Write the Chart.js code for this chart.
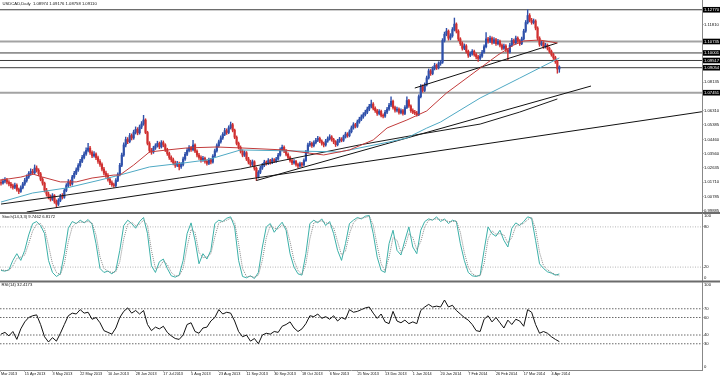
<!DOCTYPE html>
<html><head><meta charset="utf-8">
<script src="https://cdn.jsdelivr.net/npm/chart.js@4.4.1/dist/chart.umd.min.js"></script>
<style>
html,body{margin:0;padding:0;background:#fff;width:720px;height:377px;overflow:hidden;}
.p{position:absolute;left:0;width:720px;}
</style></head><body>
<div class="p" style="top:0;height:216px"><canvas id="cMain"></canvas></div>
<div class="p" style="top:210px;height:73px"><canvas id="cStoch"></canvas></div>
<div class="p" style="top:280px;height:97px"><canvas id="cRsi"></canvas></div>
<script>
// ---------------- DATA ----------------
const candleOpen = [
1.0170,1.0165,1.0178,1.0185,1.0172,1.0160,1.0148,1.0138,1.0152,1.0125,
1.0112,1.0135,1.0160,1.0182,1.0205,1.0228,1.0240,1.0232,1.0262,1.0248,
1.0225,1.0190,1.0165,1.0120,1.0095,1.0078,1.0062,1.0085,1.0048,1.0030,
1.0055,1.0082,1.0075,1.0118,1.0150,1.0172,1.0160,1.0205,1.0228,1.0250,
1.0278,1.0305,1.0330,1.0352,1.0375,1.0390,1.0362,1.0340,1.0352,1.0328,
1.0305,1.0285,1.0255,1.0230,1.0215,1.0190,1.0168,1.0155,1.0150,1.0182,
1.0220,1.0280,1.0345,1.0410,1.0445,1.0432,1.0470,1.0455,1.0492,1.0510,
1.0488,1.0525,1.0545,1.0570,1.0490,1.0420,1.0375,1.0365,1.0390,1.0405,
1.0420,1.0398,1.0425,1.0410,1.0380,1.0355,1.0330,1.0315,1.0295,1.0280,
1.0292,1.0270,1.0285,1.0320,1.0350,1.0375,1.0392,1.0380,1.0410,1.0370,
1.0345,1.0330,1.0312,1.0325,1.0305,1.0292,1.0315,1.0300,1.0338,1.0372,
1.0405,1.0430,1.0455,1.0478,1.0502,1.0490,1.0520,1.0540,1.0505,1.0460,
1.0420,1.0395,1.0370,1.0345,1.0360,1.0320,1.0300,1.0285,1.0302,1.0260,
1.0205,1.0235,1.0262,1.0280,1.0300,1.0292,1.0310,1.0298,1.0315,1.0305,
1.0320,1.0345,1.0380,1.0395,1.0372,1.0350,1.0330,1.0310,1.0295,1.0305,
1.0285,1.0275,1.0290,1.0282,1.0310,1.0365,1.0410,1.0420,1.0405,1.0425,
1.0440,1.0452,1.0435,1.0420,1.0410,1.0435,1.0450,1.0462,1.0445,1.0430,
1.0412,1.0435,1.0448,1.0440,1.0462,1.0480,1.0470,1.0495,1.0520,1.0540,
1.0530,1.0558,1.0575,1.0590,1.0605,1.0620,1.0640,1.0658,1.0672,1.0645,
1.0630,1.0612,1.0625,1.0600,1.0595,1.0620,1.0640,1.0665,1.0690,1.0650,
1.0632,1.0640,1.0618,1.0630,1.0612,1.0650,1.0695,1.0660,1.0630,1.0620,
1.0615,1.0605,1.0720,1.0785,1.0760,1.0795,1.0840,1.0885,1.0868,1.0900,
1.0920,1.0905,1.0932,1.0940,1.1080,1.1120,1.1140,1.1095,1.1110,1.1150,
1.1185,1.1140,1.1090,1.1060,1.1030,1.1045,1.1010,1.0985,1.0995,1.1010,
1.0990,1.0975,1.0965,1.0980,1.1005,1.1040,1.1090,1.1075,1.1095,1.1068,
1.1085,1.1060,1.1075,1.1050,1.1030,1.1045,1.1020,1.1005,1.1050,1.1080,
1.1065,1.1095,1.1078,1.1060,1.1090,1.1140,1.1195,1.1240,1.1210,1.1195,
1.1205,1.1160,1.1095,1.1055,1.1065,1.1040,1.1050,1.1030,1.1010,1.0990,
1.0970,1.0945,1.08974];
const candleHigh = [
1.0188,1.0192,1.0201,1.0196,1.0181,1.0170,1.0159,1.0166,1.0160,1.0133,
1.0148,1.0171,1.0196,1.0218,1.0240,1.0257,1.0254,1.0282,1.0276,1.0258,
1.0234,1.0201,1.0172,1.0132,1.0108,1.0090,1.0098,1.0092,1.0058,1.0066,
1.0094,1.0098,1.0129,1.0162,1.0188,1.0184,1.0216,1.0241,1.0263,1.0290,
1.0318,1.0344,1.0366,1.0392,1.0420,1.0401,1.0373,1.0368,1.0360,1.0339,
1.0316,1.0296,1.0266,1.0242,1.0226,1.0201,1.0180,1.0166,1.0194,1.0232,
1.0292,1.0358,1.0424,1.0460,1.0458,1.0484,1.0481,1.0505,1.0526,1.0521,
1.0538,1.0560,1.0600,1.0578,1.0498,1.0431,1.0388,1.0402,1.0418,1.0434,
1.0429,1.0438,1.0436,1.0418,1.0389,1.0364,1.0341,1.0326,1.0306,1.0305,
1.0300,1.0297,1.0332,1.0362,1.0388,1.0406,1.0402,1.0440,1.0418,1.0379,
1.0356,1.0341,1.0337,1.0333,1.0314,1.0326,1.0324,1.0349,1.0384,1.0417,
1.0442,1.0468,1.0490,1.0516,1.0514,1.0533,1.0557,1.0549,1.0512,1.0468,
1.0429,1.0404,1.0379,1.0372,1.0368,1.0331,1.0312,1.0314,1.0309,1.0268,
1.0246,1.0274,1.0292,1.0312,1.0308,1.0322,1.0318,1.0326,1.0323,1.0331,
1.0357,1.0392,1.0410,1.0404,1.0381,1.0359,1.0338,1.0320,1.0316,1.0312,
1.0294,1.0301,1.0298,1.0321,1.0376,1.0422,1.0434,1.0429,1.0437,1.0452,
1.0466,1.0460,1.0443,1.0428,1.0446,1.0462,1.0476,1.0470,1.0453,1.0438,
1.0446,1.0459,1.0457,1.0473,1.0492,1.0489,1.0507,1.0532,1.0553,1.0549,
1.0570,1.0588,1.0603,1.0617,1.0633,1.0653,1.0671,1.0698,1.0681,1.0654,
1.0639,1.0637,1.0633,1.0610,1.0632,1.0652,1.0677,1.0718,1.0698,1.0660,
1.0653,1.0648,1.0642,1.0638,1.0662,1.0718,1.0703,1.0668,1.0641,1.0632,
1.0626,1.0731,1.0798,1.0796,1.0808,1.0852,1.0897,1.0894,1.0912,1.0934,
1.0929,1.0944,1.0953,1.1092,1.1134,1.1158,1.1148,1.1124,1.1163,1.1224,
1.1193,1.1149,1.1098,1.1071,1.1058,1.1054,1.1019,1.1008,1.1022,1.1018,
1.0999,1.0984,1.0992,1.1017,1.1052,1.1130,1.1100,1.1108,1.1104,1.1098,
1.1094,1.1088,1.1083,1.1058,1.1057,1.1053,1.1028,1.1062,1.1093,1.1089,
1.1108,1.1103,1.1086,1.1102,1.1152,1.1208,1.1277,1.1252,1.1222,1.1218,
1.1213,1.1168,1.1104,1.1078,1.1073,1.1062,1.1058,1.1038,1.1019,1.0998,
1.0979,1.0953,1.09176];
const candleLow = [
1.0152,1.0158,1.0166,1.0160,1.0147,1.0135,1.0126,1.0129,1.0114,1.0098,
1.0105,1.0128,1.0150,1.0172,1.0196,1.0215,1.0220,1.0224,1.0236,1.0212,
1.0180,1.0152,1.0108,1.0082,1.0064,1.0050,1.0054,1.0036,1.0012,1.0021,
1.0046,1.0063,1.0068,1.0110,1.0141,1.0148,1.0152,1.0196,1.0219,1.0241,
1.0268,1.0296,1.0321,1.0343,1.0366,1.0350,1.0328,1.0331,1.0316,1.0292,
1.0272,1.0243,1.0218,1.0202,1.0178,1.0155,1.0144,1.0138,1.0142,1.0174,
1.0212,1.0271,1.0336,1.0398,1.0419,1.0424,1.0442,1.0446,1.0480,1.0475,
1.0479,1.0514,1.0536,1.0482,1.0410,1.0362,1.0350,1.0356,1.0381,1.0396,
1.0386,1.0390,1.0398,1.0368,1.0343,1.0318,1.0302,1.0282,1.0266,1.0270,
1.0250,1.0260,1.0276,1.0311,1.0342,1.0366,1.0368,1.0372,1.0360,1.0334,
1.0318,1.0300,1.0304,1.0294,1.0280,1.0284,1.0289,1.0293,1.0330,1.0364,
1.0396,1.0421,1.0446,1.0470,1.0478,1.0482,1.0512,1.0494,1.0450,1.0410,
1.0384,1.0358,1.0334,1.0336,1.0310,1.0288,1.0272,1.0276,1.0248,1.0182,
1.0198,1.0226,1.0253,1.0271,1.0281,1.0284,1.0287,1.0290,1.0296,1.0298,
1.0313,1.0338,1.0371,1.0361,1.0340,1.0318,1.0299,1.0284,1.0287,1.0274,
1.0262,1.0268,1.0270,1.0276,1.0304,1.0358,1.0401,1.0394,1.0398,1.0417,
1.0431,1.0424,1.0408,1.0398,1.0402,1.0427,1.0441,1.0434,1.0418,1.0400,
1.0404,1.0426,1.0430,1.0432,1.0454,1.0459,1.0462,1.0487,1.0511,1.0519,
1.0522,1.0549,1.0566,1.0581,1.0596,1.0611,1.0630,1.0648,1.0634,1.0619,
1.0600,1.0603,1.0590,1.0583,1.0587,1.0611,1.0632,1.0656,1.0640,1.0621,
1.0622,1.0607,1.0609,1.0601,1.0604,1.0642,1.0650,1.0619,1.0610,1.0604,
1.0594,1.0598,1.0712,1.0749,1.0752,1.0788,1.0832,1.0856,1.0860,1.0891,
1.0894,1.0897,1.0921,1.0933,1.1070,1.1110,1.1082,1.1084,1.1101,1.1141,
1.1128,1.1078,1.1048,1.1018,1.1021,1.0998,1.0972,1.0976,1.0986,1.0979,
1.0962,1.0945,1.0954,1.0972,1.0998,1.1032,1.1063,1.1066,1.1056,1.1060,
1.1049,1.1052,1.1039,1.1019,1.1022,1.1008,1.0955,1.0998,1.1042,1.1054,
1.1058,1.1067,1.1049,1.1053,1.1083,1.1132,1.1186,1.1199,1.1184,1.1186,
1.1148,1.1083,1.1043,1.1046,1.1029,1.1031,1.1019,1.0999,1.0979,1.0958,
1.0933,1.0870,1.08758];
const candleClose = [
1.0165,1.0178,1.0185,1.0172,1.0160,1.0148,1.0138,1.0152,1.0125,1.0112,
1.0135,1.0160,1.0182,1.0205,1.0228,1.0240,1.0232,1.0262,1.0248,1.0225,
1.0190,1.0165,1.0120,1.0095,1.0078,1.0062,1.0085,1.0048,1.0030,1.0055,
1.0082,1.0075,1.0118,1.0150,1.0172,1.0160,1.0205,1.0228,1.0250,1.0278,
1.0305,1.0330,1.0352,1.0375,1.0390,1.0362,1.0340,1.0352,1.0328,1.0305,
1.0285,1.0255,1.0230,1.0215,1.0190,1.0168,1.0155,1.0150,1.0182,1.0220,
1.0280,1.0345,1.0410,1.0445,1.0432,1.0470,1.0455,1.0492,1.0510,1.0488,
1.0525,1.0545,1.0570,1.0490,1.0420,1.0375,1.0365,1.0390,1.0405,1.0420,
1.0398,1.0425,1.0410,1.0380,1.0355,1.0330,1.0315,1.0295,1.0280,1.0292,
1.0270,1.0285,1.0320,1.0350,1.0375,1.0392,1.0380,1.0410,1.0370,1.0345,
1.0330,1.0312,1.0325,1.0305,1.0292,1.0315,1.0300,1.0338,1.0372,1.0405,
1.0430,1.0455,1.0478,1.0502,1.0490,1.0520,1.0540,1.0505,1.0460,1.0420,
1.0395,1.0370,1.0345,1.0360,1.0320,1.0300,1.0285,1.0302,1.0260,1.0205,
1.0235,1.0262,1.0280,1.0300,1.0292,1.0310,1.0298,1.0315,1.0305,1.0320,
1.0345,1.0380,1.0395,1.0372,1.0350,1.0330,1.0310,1.0295,1.0305,1.0285,
1.0275,1.0290,1.0282,1.0310,1.0365,1.0410,1.0420,1.0405,1.0425,1.0440,
1.0452,1.0435,1.0420,1.0410,1.0435,1.0450,1.0462,1.0445,1.0430,1.0412,
1.0435,1.0448,1.0440,1.0462,1.0480,1.0470,1.0495,1.0520,1.0540,1.0530,
1.0558,1.0575,1.0590,1.0605,1.0620,1.0640,1.0658,1.0672,1.0645,1.0630,
1.0612,1.0625,1.0600,1.0595,1.0620,1.0640,1.0665,1.0690,1.0650,1.0632,
1.0640,1.0618,1.0630,1.0612,1.0650,1.0695,1.0660,1.0630,1.0620,1.0615,
1.0605,1.0720,1.0785,1.0760,1.0795,1.0840,1.0885,1.0868,1.0900,1.0920,
1.0905,1.0932,1.0940,1.1080,1.1120,1.1140,1.1095,1.1110,1.1150,1.1185,
1.1140,1.1090,1.1060,1.1030,1.1045,1.1010,1.0985,1.0995,1.1010,1.0990,
1.0975,1.0965,1.0980,1.1005,1.1040,1.1090,1.1075,1.1095,1.1068,1.1085,
1.1060,1.1075,1.1050,1.1030,1.1045,1.1020,1.1005,1.1050,1.1080,1.1065,
1.1095,1.1078,1.1060,1.1090,1.1140,1.1195,1.1240,1.1210,1.1195,1.1205,
1.1160,1.1095,1.1055,1.1065,1.1040,1.1050,1.1030,1.1010,1.0990,1.0970,
1.0945,1.0897,1.09110];

// moving averages (bar index -> price)
const ma50Bars = [0,10,16,21,30,38,46,57,60,67,75,84,94,109,121,143,163,176,188,195,205,215,225,242,251,259,264,272,281];
const ma50Vals = [1.0185,1.0204,1.0224,1.0204,1.0173,1.0173,1.0198,1.0217,1.0217,1.0281,1.0365,1.0378,1.0391,1.0397,1.0391,1.0378,1.0346,1.0378,1.0442,1.0519,1.0570,1.0628,1.0743,1.0903,1.0987,1.1051,1.1077,1.1083,1.1064];
const ma100Bars = [0,16,33,50,60,75,92,104,121,146,171,196,205,215,222,242,262,282];
const ma100Vals = [1.0044,1.0102,1.0134,1.0185,1.0217,1.0269,1.0294,1.0314,1.0378,1.0372,1.0365,1.0429,1.0455,1.0518,1.0557,1.0711,1.0839,1.0968];
const ma200Bars = [0,30,60,90,121,151,181,212,242,262,281];
const ma200Vals = [1.0031,1.0083,1.0140,1.0198,1.0256,1.0333,1.0410,1.0480,1.0544,1.0621,1.0705];

// trend lines (two anchors each)
const trendABars = [13,354], trendAVals = [0.9980,1.0623];
const trendBBars = [129,298], trendBVals = [1.0182,1.0788];
const trendCBars = [209,281], trendCVals = [1.0775,1.1064];

// horizontal levels
const hLevels = [1.12770,1.10735,1.10001,1.09517,1.09054,1.07451];
const hLevelHeavy = [false,true,false,false,false,true];

// price axis
const priceTicks = [1.12770,1.11810,1.10735,1.10001,1.09517,1.09054,1.08135,1.07451,1.06310,1.05385,1.04460,1.03560,1.02635,1.01710,1.00785,0.99885];
const priceTickLabels = ['1.12770','1.11810','1.10735','1.10001','1.09517','1.09054','1.08135','1.07451','1.06310','1.05385','1.04460','1.03560','1.02635','1.01710','1.00785','0.99885'];
const priceTickBoxed = [true,false,true,true,true,true,false,true,false,false,false,false,false,false,false,false];

// date axis
const dateTickBars = [0,12,26,40,54,68,82,96,110,124,138,152,166,180,194,208,222,236,250,264,278];
const dateTickLabels = ['Mar 2013','15 Apr 2013','3 May 2013','22 May 2013','10 Jun 2013','28 Jun 2013','17 Jul 2013','5 Aug 2013','23 Aug 2013','11 Sep 2013','30 Sep 2013','18 Oct 2013','6 Nov 2013','25 Nov 2013','13 Dec 2013','1 Jan 2014','20 Jan 2014','7 Feb 2014','26 Feb 2014','17 Mar 2014','4 Apr 2014'];

// oscillators, one value every 2 bars
const stochK = [
15,14,16,30,40,30,45,68,85,88, 82,70,30,12,6,10,40,78,88,85,
90,86,91,84,55,18,12,14,10,15, 45,82,90,85,78,88,94,70,22,12,
28,32,18,7,5,8,30,70,86,60, 25,40,32,45,85,90,88,93,95,80,
30,6,4,7,3,12,50,80,85,72, 80,87,75,40,20,10,8,40,85,90,
86,92,82,88,70,45,30,55,85,90, 94,92,96,97,70,35,15,12,55,75,
45,38,60,80,50,40,75,88,92,90, 95,88,92,85,90,88,55,30,12,7,
6,8,45,80,70,66,75,60,50,78, 86,82,88,95,93,60,25,18,13,11,
8,9.7462];
const stochD = [
16,15,15,22,33,35,38,55,74,84, 85,77,52,25,12,9,25,58,80,86,
87,87,88,86,68,35,18,14,12,13, 28,62,84,87,82,84,90,82,45,18,
20,29,24,12,7,7,18,50,76,72, 42,34,35,40,65,86,88,90,93,87,
55,18,6,6,5,8,30,64,82,78, 77,83,80,58,30,15,9,25,62,86,
88,89,86,85,79,58,38,44,70,86, 92,93,94,96,83,52,25,14,35,64,
60,42,50,70,64,46,58,80,90,91, 92,91,90,88,88,89,72,42,20,10,
7,7,25,62,74,69,70,68,56,64, 81,84,85,91,94,77,42,22,16,12,
9,6.8172];
const rsi14 = [
41,43,39,44,35,47,55,60,62,63, 52,38,32,37,33,42,52,62,65,64,
69,65,66,58,60,54,45,43,41,48, 60,67,71,65,68,64,68,52,45,49,
47,50,43,39,36,35,40,52,54,44, 42,48,49,56,60,69,64,66,65,56,
44,38,40,33,36,30,40,42,41,44, 43,50,52,55,48,44,47,53,62,61,
64,59,61,58,62,56,60,58,69,66, 67,69,71,72,65,59,64,55,53,67,
56,54,57,53,55,53,68,72,75,72, 73,72,80,72,74,68,64,60,57,52,
45,44,58,62,55,60,54,48,57,52, 58,56,50,69,66,52,42,44,42,38,
35,32.4173];
const stochLevels = [80,20];
const stochTicks = [80,20], stochTickLabels = ['80','20'];
const rsiLevels = [70,60,40,30];
const rsiTicks = [70,60,40,30], rsiTickLabels = ['70','60','40','30'];

// ---------------- RENDER ----------------
const FONT = '"Liberation Sans", Arial, sans-serif';
Chart.defaults.font.family = FONT;
Chart.defaults.font.size = 4.2;
Chart.defaults.color = '#111';
const X_MIN = -0.5, X_MAX = 354.05;
const BLUE = '#2f50aa', RED = '#d03030';

const decor = {
  id: 'decor',
  afterDraw(chart, args, o) {
    const { ctx, chartArea: a } = chart;
    ctx.save();
    if (o.sep) {
      ctx.strokeStyle = '#6b6b6b'; ctx.lineWidth = 2;
      ctx.beginPath(); ctx.moveTo(0, a.bottom + 1); ctx.lineTo(chart.width, a.bottom + 1); ctx.stroke();
    }
    ctx.font = '4.2px ' + FONT; ctx.fillStyle = '#111';
    ctx.textBaseline = 'middle'; ctx.textAlign = 'left';
    if (o.text) ctx.fillText(o.text, o.tx, o.ty);
    if (o.edge) {
      const y = chart.scales.y;
      ctx.fillText('100', y.left + 2, y.getPixelForValue(100) + 2.6);
      ctx.fillText('0', y.left + 2, y.getPixelForValue(0) - 2.7);
    }
    ctx.restore();
  }
};

function pts(bars, vals) { return bars.map((b, i) => ({ x: b, y: vals[i] })); }
function osc(vals) { return vals.map((v, k) => ({ x: k * 2, y: v })); }
function level(v) { return [{ x: X_MIN, y: v }, { x: X_MAX, y: v }]; }
function lineDs(data, color, width, order, dash) {
  return { type: 'line', data, borderColor: color, borderWidth: width, pointRadius: 0,
           fill: false, tension: 0, order, borderDash: dash || [] };
}
function xHidden() {
  return { type: 'linear', min: X_MIN, max: X_MAX, display: false, offset: false, grid: { display: false } };
}
function yAxis(min, max, values, labels, boxed) {
  return {
    type: 'linear', position: 'right', min, max, bounds: 'data',
    afterBuildTicks: s => { s.ticks = values.map(v => ({ value: v })); },
    afterFit: s => { s.width = 18; s.paddingTop = 0; s.paddingBottom = 0; },
    grid: { display: true, drawOnChartArea: false, drawTicks: true, tickLength: 1.5, color: '#888' },
    border: { display: true, color: '#888', width: 1 },
    ticks: {
      padding: 0.5, autoSkip: false,
      callback: (v, i) => labels[i],
      font: { size: 4.2, lineHeight: 1 },
      color: c => (boxed && boxed[c.index]) ? '#fff' : '#111',
      showLabelBackdrop: c => !!(boxed && boxed[c.index]),
      backdropColor: '#000',
      backdropPadding: { top: 0.7, bottom: 0.7, left: 1, right: 3 }
    }
  };
}
const common = { responsive: true, maintainAspectRatio: false, animation: false, devicePixelRatio: 1,
  events: [], plugins: { legend: { display: false }, tooltip: { enabled: false } } };

// main price panel
const candleColors = candleClose.map((c, i) => c >= candleOpen[i] ? BLUE : RED);
const wickData = candleHigh.map((h, i) => ({ x: i, y: [candleLow[i], h] }));
const bodyData = candleOpen.map((o, i) => ({ x: i, y: [o, candleClose[i]] }));
const mainDatasets = [
  { type: 'bar', data: bodyData, backgroundColor: candleColors, barThickness: 1.5, grouped: false, order: 2, minBarLength: 0.6 },
  { type: 'bar', data: wickData, backgroundColor: candleColors, barThickness: 0.75, grouped: false, order: 3 },
  lineDs(pts(ma50Bars, ma50Vals), '#c23b3b', 1, 1),
  lineDs(pts(ma100Bars, ma100Vals), '#4fa9c4', 1, 1),
  lineDs(pts(ma200Bars, ma200Vals), '#1a1a1a', 1, 1),
  lineDs(pts(trendABars, trendAVals), '#111', 1, 1),
  lineDs(pts(trendBBars, trendBVals), '#111', 1, 1),
  lineDs(pts(trendCBars, trendCVals), '#111', 1, 1)
];
hLevels.forEach((v, i) => mainDatasets.push(
  lineDs(level(v), hLevelHeavy[i] ? '#a3a3a3' : '#3c3c3c', hLevelHeavy[i] ? 2 : 1, 5)));

new Chart(document.getElementById('cMain'), {
  type: 'bar',
  data: { datasets: mainDatasets },
  options: Object.assign({}, common, {
    layout: { padding: { left: 0, right: 0, top: 0, bottom: 4 } },
    scales: { x: xHidden(), y: yAxis(0.99801, 1.13396, priceTicks, priceTickLabels, priceTickBoxed) },
    plugins: Object.assign({}, common.plugins, {
      decor: { sep: true, text: 'USDCAD,Daily  1.08974 1.09176 1.08758 1.09110', tx: 2.5, ty: 3.6 }
    })
  }),
  plugins: [decor]
});

// stochastic panel
const stochDatasets = [
  lineDs(osc(stochK), '#3cb0a8', 1, 1),
  lineDs(osc(stochD), '#8a8a8a', 1, 0, [1, 1])
];
stochLevels.forEach(v => stochDatasets.push(lineDs(level(v), '#b5b5b5', 1, 5, [1, 1.5])));
new Chart(document.getElementById('cStoch'), {
  type: 'line',
  data: { datasets: stochDatasets },
  options: Object.assign({}, common, {
    layout: { padding: { left: 0, right: 0, top: 3.5, bottom: 2.5 } },
    scales: { x: xHidden(), y: yAxis(0, 100, stochTicks, stochTickLabels, null) },
    plugins: Object.assign({}, common.plugins, {
      decor: { sep: true, edge: true, text: 'Stoch(14,3,3) 9.7462 6.8172', tx: 2, ty: 6.7 }
    })
  }),
  plugins: [decor]
});

// RSI panel with date axis
const rsiDatasets = [ lineDs(osc(rsi14), '#111', 1, 1) ];
rsiLevels.forEach(v => rsiDatasets.push(lineDs(level(v), '#6a6a6a', 1, 5, [1.5, 1.5])));
new Chart(document.getElementById('cRsi'), {
  type: 'line',
  data: { datasets: rsiDatasets },
  options: Object.assign({}, common, {
    layout: { padding: { left: 0, right: 0, top: 2.5, bottom: 0 } },
    scales: {
      x: {
        type: 'linear', min: X_MIN, max: X_MAX, display: true, offset: false,
        afterBuildTicks: s => { s.ticks = dateTickBars.map(v => ({ value: v })); },
        afterFit: s => { s.height = 7; s.paddingLeft = 0; s.paddingRight = 0; },
        grid: { display: true, drawOnChartArea: false, drawTicks: true, tickLength: 1.5, color: '#888' },
        border: { display: true, color: '#888', width: 1 },
        ticks: { autoSkip: false, maxRotation: 0, minRotation: 0, align: 'start', padding: 0.5,
                 font: { size: 3.8, lineHeight: 1 }, callback: (v, i) => dateTickLabels[i] }
      },
      y: yAxis(0, 100, rsiTicks, rsiTickLabels, null)
    },
    plugins: Object.assign({}, common.plugins, {
      decor: { sep: false, edge: true, text: 'RSI(14) 32.4173', tx: 1.5, ty: 5 }
    })
  }),
  plugins: [decor]
});
</script>
</body></html>
